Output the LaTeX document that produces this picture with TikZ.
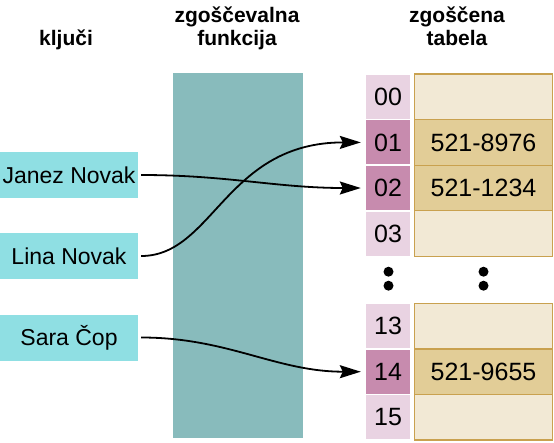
\documentclass[tikz,border=0pt]{standalone}
\usepackage{fontspec}
\setmainfont{Liberation Sans}
\usetikzlibrary{arrows.meta,positioning}
\definecolor{HashKey}{HTML}{8FDFE3}
\definecolor{HashFun}{HTML}{88BBBC}
\definecolor{SlotLight}{HTML}{E9D3E2}
\definecolor{SlotDark}{HTML}{C78BAE}
\definecolor{CellLight}{HTML}{F2E9D5}
\definecolor{CellDark}{HTML}{E2CD97}
\definecolor{CellEdge}{HTML}{C9A14F}

\begin{document}
\begin{tikzpicture}[
      x=1pt,y=-1pt,
      heading/.style={font=\fontsize{21}{23}\selectfont\bfseries,
        align=center,anchor=base,inner sep=0pt},
      keybox/.style={fill=HashKey,minimum width=138pt,minimum height=46pt,
        inner sep=0pt,font=\fontsize{23}{26}\selectfont},
      slot/.style={fill=SlotLight,minimum width=44pt,minimum height=44pt,
        inner sep=0pt,font=\fontsize{25}{28}\selectfont},
      usedslot/.style={slot,fill=SlotDark},
      cell/.style={draw=CellEdge,line width=1.3pt,fill=CellLight,
        minimum width=138pt,minimum height=45.6pt,inner sep=0pt,
        font=\fontsize{25}{28}\selectfont},
      usedcell/.style={cell,fill=CellDark},
      keyarrow/.style={-{Stealth[length=21pt,width=13pt,inset=3pt]},
        line width=1.8pt,shorten <=3pt,shorten >=5pt}
    ]
      \useasboundingbox (0,0) rectangle (554,442);

      % headings
      \node[heading] (hkeys) at (66,45) {ključi};
      \node[heading] (hfun) at (237,45) {zgoščevalna\\funkcija};
      \node[heading] (htab) at (457,45) {zgoščena\\tabela};

      % hash function
      \node[fill=HashFun,minimum width=130pt,minimum height=365pt,
        inner sep=0pt] (hashfn) at (238,255) {};

      % keys
      \node[keybox] (janez) at (69,175) {Janez Novak};
      \node[keybox] (lina) at (69,256) {Lina Novak};
      \node[keybox] (sara) at (69,337.5) {Sara Čop};

      % table
      \node[cell] (c00) at (483.5,96.8) {};
      \node[usedcell] (c01) at (483.5,142.4) {521-8976};
      \node[usedcell] (c02) at (483.5,188) {521-1234};
      \node[cell] (c03) at (483.5,233.6) {};
      \node[cell] (c13) at (483.5,326.1) {};
      \node[usedcell] (c14) at (483.5,371.7) {521-9655};
      \node[cell] (c15) at (483.5,417.3) {};

      \node[slot] (s00) at (388,96.8) {00};
      \node[usedslot] (s01) at (388,142.4) {01};
      \node[usedslot] (s02) at (388,188) {02};
      \node[slot] (s03) at (388,233.6) {03};
      \node[slot] (s13) at (388,326.1) {13};
      \node[usedslot] (s14) at (388,371.7) {14};
      \node[slot] (s15) at (388,417.3) {15};

      \fill (388.5,271.7) circle (5pt) (388.5,285.7) circle (5pt);
      \fill (483.5,271.7) circle (5pt) (483.5,285.7) circle (5pt);

      % hashing
      \draw[keyarrow] (janez.east) to[out=0,in=180] (s02.west);
      \draw[keyarrow] (lina.east) .. controls +(75,0) and +(-140,0) .. (s01.west);
      \draw[keyarrow] (sara.east) to[out=0,in=180] (s14.west);
    \end{tikzpicture}
\end{document}
